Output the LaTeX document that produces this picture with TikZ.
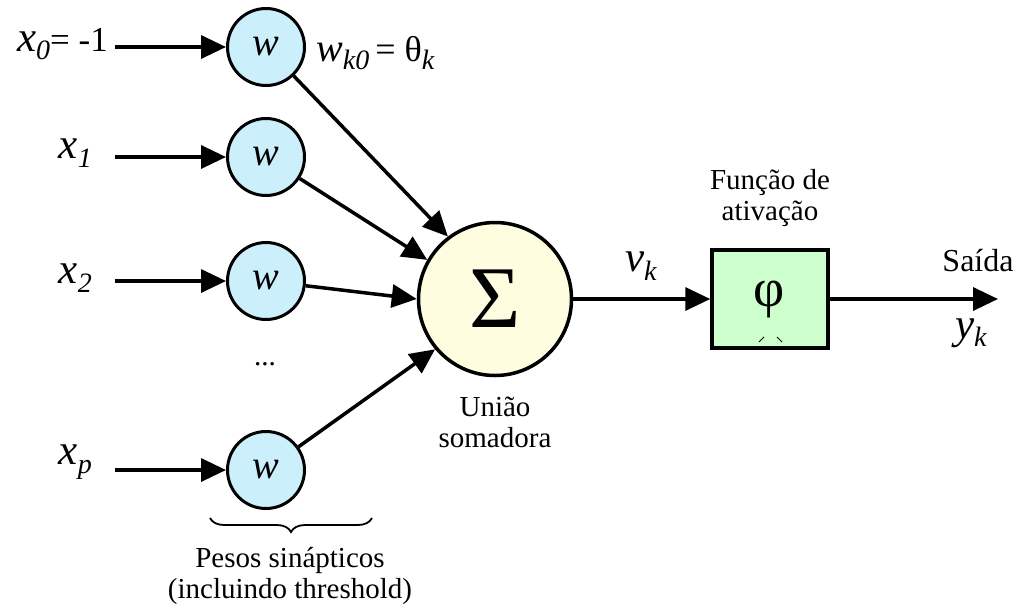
\documentclass[tikz,border=0pt]{standalone}
\usepackage{fontspec}
\setmainfont{Liberation Serif}
\usetikzlibrary{arrows.meta,decorations.pathreplacing}
\newcommand\fsz[1]{\fontsize{#1}{#1}\selectfont}
\newcommand\vsub[3]{{\fsz{#1}\textit{#2}}\raisebox{-0.3em}{\fsz{28}\textit{#3}}}
\begin{document}
\begin{tikzpicture}[x=1pt,y=-1pt,
  wnode/.style={circle,draw,line width=3pt,fill=cyan!20,minimum size=77pt,inner sep=0pt,font=\fsz{40}\itshape},
  sumnode/.style={circle,draw,line width=3.5pt,fill=yellow!12,minimum size=153pt,inner sep=0pt,font=\fsz{88}},
  actbox/.style={rectangle,draw,line width=3.5pt,fill=green!20,minimum width=116pt,minimum height=98pt,inner sep=0pt},
  conn/.style={line width=3.5pt,-{Triangle[length=25pt,width=23pt]}},
  lbl/.style={inner sep=0pt,font=\fsz{29}},
  tlbl/.style={inner sep=0pt,align=center,font=\fontsize{29}{31}\selectfont}
]
\useasboundingbox (0,0) rectangle (1019,606);
\fill[white] (0,0) rectangle (1019,606);
% weight nodes
\node[wnode] (w0) at (266,47) {w};
\node[wnode] (w1) at (266,157) {w};
\node[wnode] (w2) at (266,281) {w};
\node[wnode] (wp) at (266,470) {w};
% sum
\node[sumnode] (s) at (495,299) {Σ};
% activation box
\node[actbox] (b) at (770,299) {};
\node[inner sep=0pt,font=\fsz{54}] (phi) at (769,300) {φ};
\coordinate (m1a) at (759,342); \coordinate (m1b) at (764,337);
\coordinate (m2a) at (777,337); \coordinate (m2b) at (782,342);
\draw[line width=1pt] (m1a) -- (m1b);
\draw[line width=1pt] (m2a) -- (m2b);
% input starts
\coordinate (i0) at (115,47);
\coordinate (i1) at (115,157);
\coordinate (i2) at (115,281);
\coordinate (ip) at (115,470);
\coordinate (out) at (998,299);
% labels
\node[lbl,anchor=east] (lx0) at (108,44) {\vsub{43}{x}{0}{\fsz{35}= -1}};
\node[lbl,anchor=east] (lx1) at (92,153) {\vsub{43}{x}{1}};
\node[lbl,anchor=east] (lx2) at (92,278) {\vsub{43}{x}{2}};
\node[lbl,anchor=east] (lxp) at (92,462) {\vsub{43}{x}{p}};
\node[lbl,anchor=west] (lw) at (316,53) {\vsub{40}{w}{k0}{\fsz{36}\,= θ}\raisebox{-0.3em}{\fsz{28}\textit{k}}};
\node[lbl] (dots) at (265,364) {...};
\node[tlbl] (uniao) at (495,422) {União\\somadora};
\node[tlbl] (func) at (770,198) {Função de\\ativação};
\node[lbl] (vk) at (641,266) {\vsub{43}{v}{k}};
\node[lbl,font=\fsz{32}] (said) at (978,261) {Saída};
\node[lbl] (yk) at (971,333) {\vsub{43}{y}{k}};
\node[tlbl] (pesos) at (290,576) {Pesos sinápticos\\(incluindo threshold)};
% brace
\coordinate (br1) at (210,518);
\coordinate (br2) at (372,518);
\draw[line width=1.8pt,decorate,decoration={brace,mirror,amplitude=14pt}] (br1) -- (br2);
% connectors
\draw[conn] (i0) -- (w0);
\draw[conn] (i1) -- (w1);
\draw[conn] (i2) -- (w2);
\draw[conn] (ip) -- (wp);
\draw[conn] (w0) -- (s.127);
\draw[conn] (w1) -- (s.150);
\draw[conn] (w2) -- (s.180);
\draw[conn] (wp) -- (s.220);
\draw[conn] (s) -- (b);
\draw[conn] (b) -- (out);
\end{tikzpicture}
\end{document}
